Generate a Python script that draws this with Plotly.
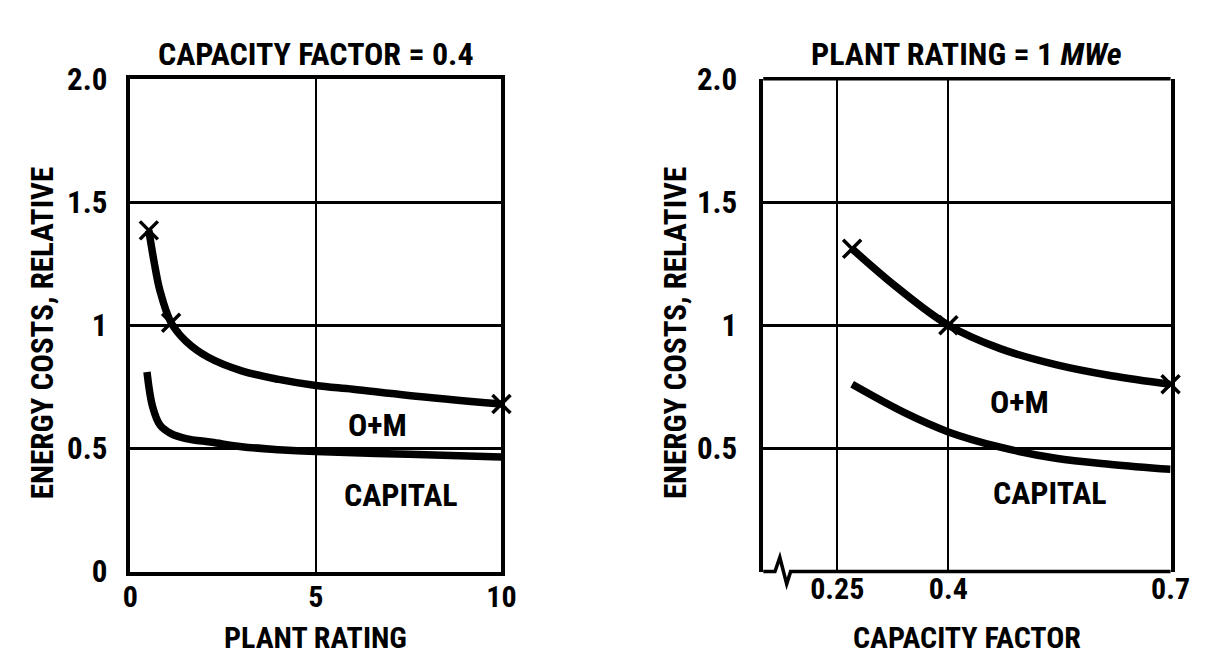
import plotly.graph_objects as go

# ---------------- data ----------------
# Left panel: capacity factor = 0.4, energy cost vs plant rating (MWe)
rating_total_x = [0.5, 0.65, 0.8, 1.1, 1.5, 2.1, 3.0, 4.0, 5.0, 6.0, 7.5, 10.0]
rating_total_y = [1.385, 1.25, 1.14, 1.01, 0.935, 0.87, 0.815, 0.78, 0.755, 0.74, 0.715, 0.68]
rating_marker_x = [0.5, 1.1, 10.0]
rating_marker_y = [1.385, 1.01, 0.68]
rating_capital_x = [0.45, 0.6, 0.8, 1.1, 1.5, 2.2, 3.0, 4.0, 5.0, 7.5, 10.0]
rating_capital_y = [0.81, 0.67, 0.595, 0.56, 0.54, 0.525, 0.507, 0.495, 0.487, 0.476, 0.465]

# Right panel: plant rating = 1 MWe, energy cost vs capacity factor
cf_total_x = [0.27, 0.33, 0.40, 0.47, 0.545, 0.62, 0.70]
cf_total_y = [1.31, 1.155, 1.0, 0.905, 0.84, 0.795, 0.76]
cf_marker_x = [0.27, 0.40, 0.70]
cf_marker_y = [1.31, 1.0, 0.76]
cf_capital_x = [0.27, 0.34, 0.40, 0.47, 0.545, 0.62, 0.70]
cf_capital_y = [0.76, 0.646, 0.567, 0.505, 0.46, 0.435, 0.415]

left_xticks = [0, 5, 10]
left_xticktext = ["0", "5", "10"]
left_yticks = [0, 0.5, 1, 1.5, 2.0]
left_yticktext = ["0", "0.5", "1", "1.5", "2.0"]
right_xticks = [0.25, 0.4, 0.7]
right_xticktext = ["0.25", "0.4", "0.7"]
right_yticks = [0.5, 1, 1.5, 2.0]
right_yticktext = ["0.5", "1", "1.5", "2.0"]

# ---------------- layout helpers ----------------
W, H = 1206, 660
FONT = "Roboto Condensed, Liberation Sans Narrow, Roboto, Liberation Sans, sans-serif"
BLACK = "#000000"


def px(x):
    return x / W


def py(y):
    return 1 - y / H


L_X0, L_X1 = 117, 497
R_X0, R_X1 = 765, 1182
Y_TOP, Y_BOT = 56, 578

fig = go.Figure()

line_style = dict(color=BLACK, width=7.5, shape="spline", smoothing=1.0)
marker_style = dict(symbol="x-thin", size=18, color=BLACK, line=dict(color=BLACK, width=3.5))

fig.add_trace(go.Scatter(x=rating_total_x, y=rating_total_y, mode="lines",
                         line=line_style, xaxis="x", yaxis="y", cliponaxis=False,
                         showlegend=False, hoverinfo="skip"))
fig.add_trace(go.Scatter(x=rating_capital_x, y=rating_capital_y, mode="lines",
                         line=line_style, xaxis="x", yaxis="y", cliponaxis=False,
                         showlegend=False, hoverinfo="skip"))
fig.add_trace(go.Scatter(x=rating_marker_x, y=rating_marker_y, mode="markers",
                         marker=marker_style, xaxis="x", yaxis="y", cliponaxis=False,
                         showlegend=False, hoverinfo="skip"))

fig.add_trace(go.Scatter(x=cf_total_x, y=cf_total_y, mode="lines",
                         line=line_style, xaxis="x2", yaxis="y2", cliponaxis=False,
                         showlegend=False, hoverinfo="skip"))
fig.add_trace(go.Scatter(x=cf_capital_x, y=cf_capital_y, mode="lines",
                         line=line_style, xaxis="x2", yaxis="y2", cliponaxis=False,
                         showlegend=False, hoverinfo="skip"))
fig.add_trace(go.Scatter(x=cf_marker_x, y=cf_marker_y, mode="markers",
                         marker=marker_style, xaxis="x2", yaxis="y2", cliponaxis=False,
                         showlegend=False, hoverinfo="skip"))

xtickfont = dict(family=FONT, size=30, color=BLACK, weight="bold")
ytickfont = dict(family=FONT, size=31, color=BLACK, weight="bold")
common_x = dict(showgrid=True, gridcolor=BLACK, gridwidth=1.5, zeroline=False,
                ticks="", tickfont=xtickfont, fixedrange=True)
common_y = dict(showgrid=True, gridcolor=BLACK, gridwidth=2.5, zeroline=False,
                ticks="", tickfont=ytickfont, fixedrange=True)

fig.update_layout(
    width=W, height=H,
    margin=dict(l=0, r=0, t=0, b=0),
    paper_bgcolor="white", plot_bgcolor="white",
    xaxis=dict(domain=[px(L_X0), px(L_X1)], range=[0, 10], anchor="y",
               tickvals=left_xticks, ticktext=left_xticktext,
               showline=True, mirror=True, linecolor=BLACK, linewidth=3.5,
               ticklabelstandoff=-4, **common_x),
    yaxis=dict(domain=[py(Y_BOT), py(Y_TOP)], range=[0, 2.0], anchor="x",
               tickvals=left_yticks, ticktext=left_yticktext,
               showline=True, mirror=True, linecolor=BLACK, linewidth=3.5,
               ticklabelstandoff=13, **common_y),
    xaxis2=dict(domain=[px(R_X0), px(R_X1)], range=[0.15, 0.7], anchor="y2",
                tickvals=right_xticks, ticktext=right_xticktext,
                showline=False, ticklabelstandoff=-4, **common_x),
    yaxis2=dict(domain=[py(Y_BOT), py(Y_TOP)], range=[0, 2.0], anchor="x2",
                tickvals=right_yticks, ticktext=right_yticktext,
                showline=True, mirror=True, linecolor=BLACK, linewidth=3.5,
                ticklabelstandoff=16, **common_y),
)

# top border and broken bottom border of right panel
fig.add_shape(type="line", xref="paper", yref="paper",
              x0=px(R_X0), x1=px(R_X1), y0=py(Y_TOP), y1=py(Y_TOP),
              line=dict(color=BLACK, width=3.5))
brk = [(R_X0, Y_BOT), (R_X0 + 12, Y_BOT), (R_X0 + 17, Y_BOT - 15),
       (R_X0 + 24, Y_BOT + 13), (R_X0 + 28, Y_BOT), (R_X1, Y_BOT)]
path = "M " + " L ".join(f"{px(a):.5f},{py(b):.5f}" for a, b in brk)
fig.add_shape(type="path", xref="paper", yref="paper", path=path,
              line=dict(color=BLACK, width=3.5))

ann_font = dict(family=FONT, size=31, color=BLACK, weight="bold")
annotations = [
    dict(text="CAPACITY FACTOR = 0.4", x=px((L_X0 + L_X1) / 2), y=py(30), size=32),
    dict(text="PLANT RATING = 1 <i>MWe</i>", x=px((R_X0 + R_X1) / 2), y=py(30), size=32),
    dict(text="PLANT RATING", x=px((L_X0 + L_X1) / 2), y=py(648), size=30),
    dict(text="CAPACITY FACTOR", x=px((R_X0 + R_X1) / 2), y=py(648), size=30),
    dict(text="ENERGY COSTS, RELATIVE", x=px(27), y=py(325), textangle=-90, size=31),
    dict(text="ENERGY COSTS, RELATIVE", x=px(675), y=py(325), textangle=-90, size=31),
]
for a in annotations:
    size = a.pop("size")
    fig.add_annotation(xref="paper", yref="paper", showarrow=False,
                       xanchor="center", yanchor="middle",
                       font=dict(ann_font, size=size), **a)

label_font = dict(family=FONT, size=32, color=BLACK, weight="bold")
fig.add_annotation(text="O+M", x=6.66, y=0.595, xref="x", yref="y",
                   showarrow=False, font=label_font)
fig.add_annotation(text="CAPITAL", x=7.29, y=0.31, xref="x", yref="y",
                   showarrow=False, font=label_font)
fig.add_annotation(text="O+M", x=0.496, y=0.69, xref="x2", yref="y2",
                   showarrow=False, font=label_font)
fig.add_annotation(text="CAPITAL", x=0.537, y=0.318, xref="x2", yref="y2",
                   showarrow=False, font=label_font)

fig.write_html("out.html")
